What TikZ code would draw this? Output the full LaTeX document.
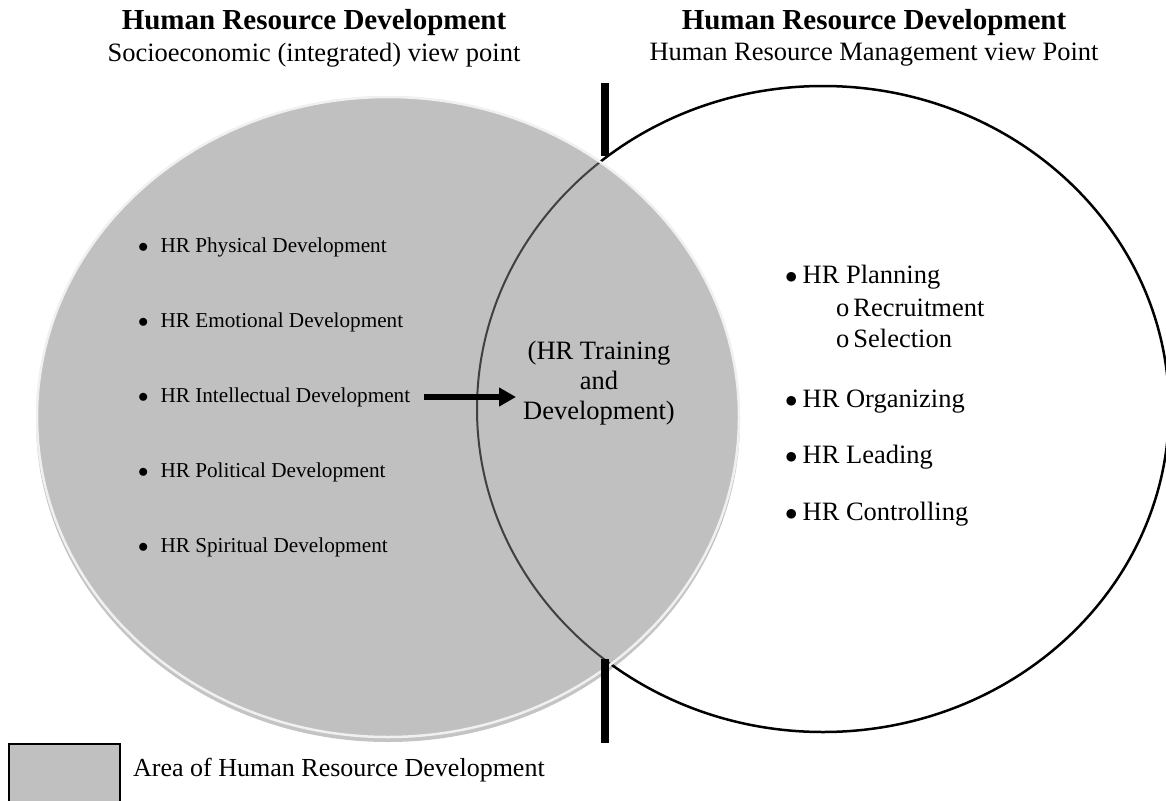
\documentclass[tikz,border=0pt]{standalone}
\usepackage{fontspec}
\setmainfont{Liberation Serif}
\usetikzlibrary{arrows.meta}
\definecolor{hrgray}{HTML}{C0C0C0}
\definecolor{ringgray}{HTML}{F0F0F0}
\definecolor{shadowgray}{HTML}{C4C4C4}
\definecolor{arcgray}{HTML}{404040}
\newcommand{\hrbul}{\ensuremath{\bullet}}
\begin{document}
\begin{tikzpicture}[x=1pt,y=-1pt,
  title/.style={font=\fontsize{29}{33}\selectfont\bfseries, inner sep=0pt},
  subtitle/.style={font=\fontsize{26.5}{30}\selectfont, inner sep=0pt},
  litem/.style={font=\fontsize{21.2}{25}\selectfont, anchor=west, inner sep=0pt},
  ritem/.style={font=\fontsize{26.5}{30}\selectfont, anchor=west, inner sep=0pt},
  lens/.style={font=\fontsize{26.5}{30}\selectfont, align=center, inner sep=0pt},
  bar/.style={line width=8pt},
  bigarrow/.style={line width=6pt, -{Triangle[length=17pt,width=18pt]}},
]
\useasboundingbox (0,0) rectangle (1166,800);
% left ellipse (shaded area)
\fill[shadowgray] (388,421) ellipse [x radius=352, y radius=321];
\fill[hrgray] (388,417) ellipse [x radius=351, y radius=320];
% right ellipse
\draw[line width=2.5pt] (823,409) ellipse [x radius=346, y radius=323];
\begin{scope}
  \clip (388,417) ellipse [x radius=351, y radius=320];
  \fill[hrgray] (388,417) ellipse [x radius=351, y radius=320];
  \draw[arcgray, line width=2pt] (823,409) ellipse [x radius=346, y radius=323];
\end{scope}
\draw[ringgray, line width=2.5pt] (388,417) ellipse [x radius=351, y radius=320];
% vertical bars
\coordinate (t1) at (605,83);
\coordinate (t2) at (605,156);
\coordinate (b1) at (605,659);
\coordinate (b2) at (605,743);
\draw[bar] (t1) -- (t2);
\draw[bar] (b1) -- (b2);
% titles
\node[title] (lt) at (314,23) {Human Resource Development};
\node[subtitle] (ls) at (314,55) {Socioeconomic (integrated) view point};
\node[title] (rt) at (874,23) {Human Resource Development};
\node[subtitle] (rs) at (874,55) {Human Resource Management view Point};
% left list
\node[litem] (l1) at (138,247) {\hrbul\hspace{12pt}HR Physical Development};
\node[litem] (l2) at (138,322) {\hrbul\hspace{12pt}HR Emotional Development};
\node[litem] (l3) at (138,397) {\hrbul\hspace{12pt}HR Intellectual Development};
\node[litem] (l4) at (138,472) {\hrbul\hspace{12pt}HR Political Development};
\node[litem] (l5) at (138,547) {\hrbul\hspace{12pt}HR Spiritual Development};
% lens text
\node[lens] (lens) at (599,383) {(HR Training\\and\\Development)};
\draw[bigarrow] ([xshift=14pt]l3.east) -- ([xshift=-7pt]l3.east -| lens.west);
% right list
\node[ritem] (r1) at (785,277) {\hrbul\hspace{5pt}HR Planning};
\node[ritem] (r1a) at (836,308) {o\hspace{4pt}Recruitment};
\node[ritem] (r1b) at (836,338) {o\hspace{4pt}Selection};
\node[ritem] (r2) at (785,402) {\hrbul\hspace{5pt}HR Organizing};
\node[ritem] (r3) at (785,457) {\hrbul\hspace{5pt}HR Leading};
\node[ritem] (r4) at (785,514) {\hrbul\hspace{5pt}HR Controlling};
% legend
\node[draw, line width=1.5pt, fill=hrgray, minimum width=111pt, minimum height=70pt, inner sep=0pt, anchor=north west] (key) at (8,743) {};
\node[font=\fontsize{26}{30}\selectfont, anchor=west, inner sep=0pt] (keytext) at (133,770) {Area of Human Resource Development};
\end{tikzpicture}
\end{document}
